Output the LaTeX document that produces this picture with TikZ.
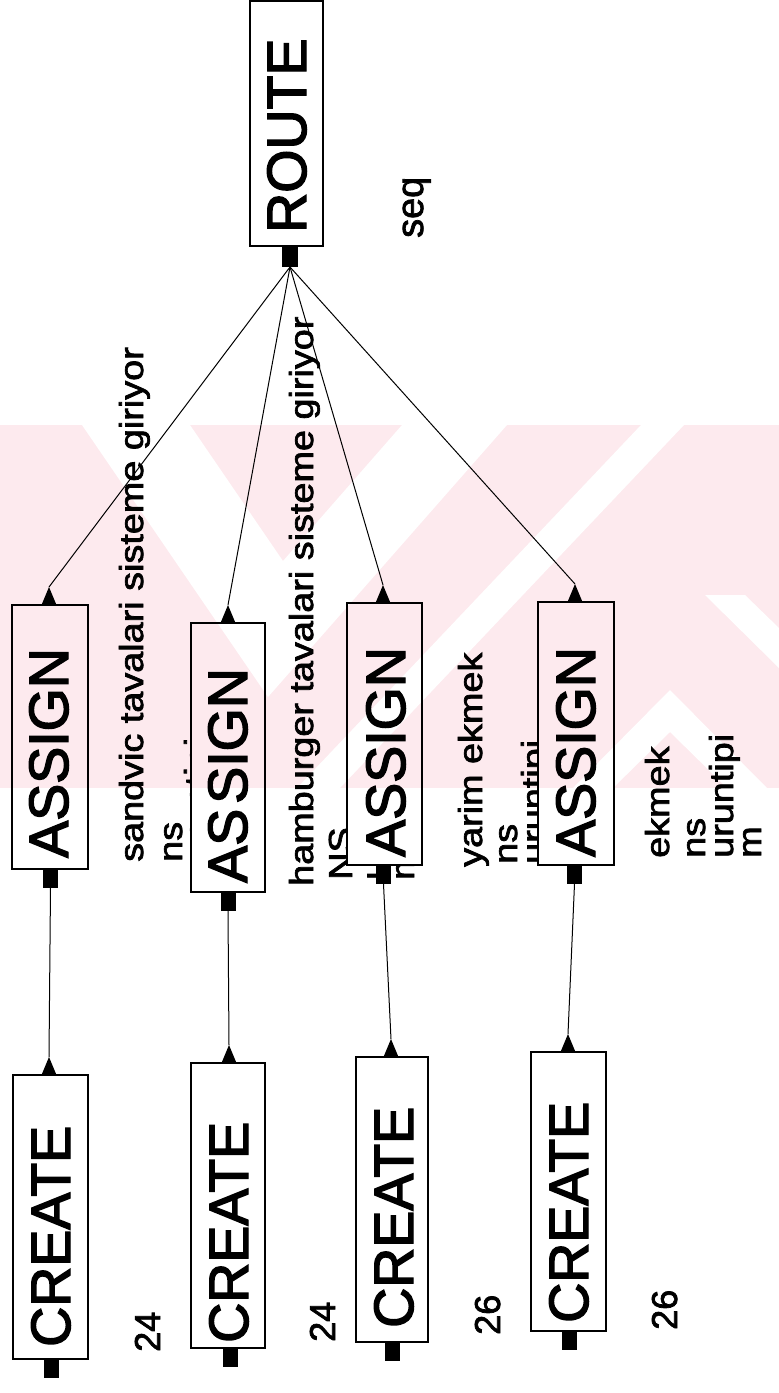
\documentclass[tikz,border=0pt]{standalone}
\usepackage{graphicx}
\usepackage{fontspec}
\setmainfont{Liberation Sans}
\newfontfamily\heavyfam{Liberation Sans}[FakeBold=2.6]
\newfontfamily\midfam{Liberation Sans}[FakeBold=2]
\usetikzlibrary{calc}

\definecolor{wmpink}{RGB}{253,234,238}

% faint background mark: pink band with white chevrons and bars
\newcommand\wmark{%
  \fill[wmpink] (0,425) rectangle (779,788);
  \fill[white] (82,425) -- (190,425) -- (283,561) -- (402,425) -- (507,425) -- (268,697) -- cycle;
  \fill[white] (641,425) -- (684,425) -- (340,788) -- (297,788) -- cycle;
  \fill[white] (670,690) -- (767,788) -- (727,788) -- (670,732) -- (613,788) -- (573,788) -- cycle;
  \fill[white] (705,595) -- (745,595) -- (779,628) -- (779,668) -- cycle;
}
\newcommand\boxfont{\heavyfam\fontsize{55.5}{55.5}\selectfont}
\newcommand\lblfont{\midfam\fontsize{37.8}{37.8}\selectfont}
\newcommand\numfont{\midfam\fontsize{36}{36}\selectfont}
\newcommand\sq[1]{\scalebox{1}[0.88]{#1}}

\begin{document}
\begin{tikzpicture}[x=1pt,y=-1pt,
  blk/.style={draw=none, fill=none, inner sep=0pt, outer sep=0pt},
  port/.style={fill=black, draw=none, inner sep=0pt, outer sep=0pt,
               minimum width=15pt, minimum height=19pt, anchor=north},
  conn/.style={line width=1pt},
  frame/.style={line width=1.4pt},
  boxtxt/.style={rotate=90, anchor=base west, inner sep=0pt, font=\boxfont},
  lbl/.style={rotate=90, anchor=base west, inner sep=0pt, font=\lblfont},
  num/.style={rotate=90, anchor=base west, inner sep=0pt, font=\numfont},
]
\useasboundingbox (0,0) rectangle (779,1393);
\fill[white] (0,0) rectangle (779,1393);

% block outlines (named, drawn later)
\node[blk, minimum width=73pt, minimum height=245pt] (route) at (286.5,123.5) {};
\node[blk, minimum width=76pt, minimum height=264pt] (a1) at (50,737) {};
\node[blk, minimum width=74pt, minimum height=269pt] (a2) at (228,757.5) {};
\node[blk, minimum width=75pt, minimum height=262pt] (a3) at (384.5,734) {};
\node[blk, minimum width=76pt, minimum height=263pt] (a4) at (576,733.5) {};
\node[blk, minimum width=75pt, minimum height=284pt] (c1) at (50.5,1217) {};
\node[blk, minimum width=74pt, minimum height=285pt] (c2) at (228,1205.5) {};
\node[blk, minimum width=72pt, minimum height=285pt] (c3) at (392,1199.5) {};
\node[blk, minimum width=75pt, minimum height=279pt] (c4) at (568.5,1191.5) {};

\wmark

% attribute texts
\node[lbl] (t1a) at (143,862) {\sq{sandvic tavalari sisteme giriyor}};
\node[lbl] (t1b) at (182,862) {\sq{ns}};
\node[lbl] (t1c) at (208,862) {\sq{uruntipi}};
\node[lbl] (t2a) at (313,886) {\sq{hamburger tavalari sisteme giriyor}};
\node[lbl] (t2b) at (352,880) {\sq{NS}};
\node[lbl] (t2c) at (385,880) {\sq{uruntipi}};
\node[lbl] (t2d) at (414,880) {\sq{m}};
\node[lbl] (t3a) at (482,867) {\sq{yarim ekmek}};
\node[lbl] (t3b) at (517,864) {\sq{ns}};
\node[lbl] (t3c) at (545,864) {\sq{uruntipi}};
\node[lbl] (t4a) at (669,858) {\sq{ekmek}};
\node[lbl] (t4b) at (705,858) {\sq{ns}};
\node[lbl] (t4c) at (733,858) {\sq{uruntipi}};
\node[lbl] (t4d) at (761,858) {\sq{m}};
\node[lbl] (seq) at (423,238) {seq};
\node[num] (n1) at (160,1352) {24};
\node[num] (n2) at (335,1342) {24};
\node[num] (n3) at (500,1335) {26};
\node[num] (n4) at (677,1330) {26};

% block bodies: white, showing the background mark, then the frame
\foreach \b in {route,a1,a2,a3,a4,c1,c2,c3,c4}{
  \begin{scope}
    \clip (\b.south west) rectangle (\b.north east);
    \fill[white] (\b.south west) rectangle (\b.north east);
    \wmark
  \end{scope}
  \draw[frame] (\b.south west) rectangle (\b.north east);
}

% block names
\node[boxtxt] (lr)  at (306,233)  {ROUTE};
\node[boxtxt] (la1) at (68,858)   {ASSIGN};
\node[boxtxt] (la2) at (247,883)  {AS\kern5pt SIGN};
\node[boxtxt] (la3) at (405,857)  {ASSIGN};
\node[boxtxt] (la4) at (595,857)  {ASSIGN};
\node[boxtxt] (lc1) at (70,1347)  {CREATE};
\node[boxtxt] (lc2) at (248,1343) {CREATE};
\node[boxtxt] (lc3) at (413,1328) {CREATE};
\node[boxtxt] (lc4) at (588,1323) {CREATE};

% exit ports
\node[port, minimum width=16pt, minimum height=21pt] (route-out) at (290,246) {};
\node[port] (a1-out) at (50.5,869) {};
\node[port] (a2-out) at (228,892) {};
\node[port] (a3-out) at (383.5,865) {};
\node[port] (a4-out) at (574.5,865) {};
\node[port] (c1-out) at (51.5,1359) {};
\node[port] (c2-out) at (230,1348) {};
\node[port] (c3-out) at (392,1342) {};
\node[port] (c4-out) at (569,1331) {};

% entry points (tips of the entry triangles)
\coordinate (a1-in) at (49,587);
\coordinate (a2-in) at (228,605);
\coordinate (a3-in) at (383,585);
\coordinate (a4-in) at (575,584);
\coordinate (c1-in) at (49,1057);
\coordinate (c2-in) at (229,1045);
\coordinate (c3-in) at (391,1039);
\coordinate (c4-in) at (568,1034);
\foreach \e in {a1-in,a2-in,a3-in,a4-in,c1-in,c2-in,c3-in,c4-in}{
  \fill (\e) -- ++(7.5,18) -- ++(-15,0) -- cycle;
}

% connections
\draw[conn] (route-out.south) -- (a1-in);
\draw[conn] (route-out.south) -- (a2-in);
\draw[conn] (route-out.south) -- (a3-in);
\draw[conn] (route-out.south) -- (a4-in);
\draw[conn] (a1-out.south) -- (c1-in);
\draw[conn] (a2-out.south) -- (c2-in);
\draw[conn] (a3-out.south) -- (c3-in);
\draw[conn] (a4-out.south) -- (c4-in);
\end{tikzpicture}
\end{document}
